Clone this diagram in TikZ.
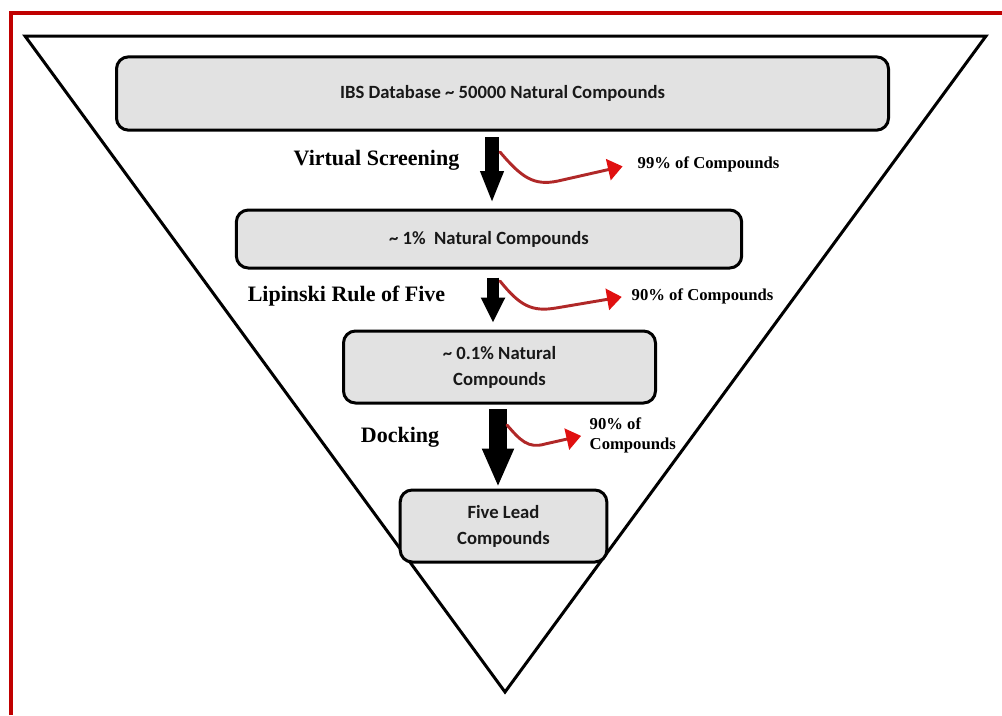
\documentclass[tikz,border=0pt]{standalone}
\usepackage{fontspec}
\setmainfont{Liberation Serif}
\newfontfamily\boxfont{Carlito}
\usepackage{xcolor}
\usetikzlibrary{arrows.meta,positioning}

\definecolor{framered}{HTML}{C00000}
\definecolor{boxgray}{HTML}{E2E2E2}
\definecolor{cutline}{HTML}{B02828}
\definecolor{cuthead}{HTML}{E01010}

\tikzset{
  stagebox/.style={draw=black, line width=2.25pt, rounded corners=9pt, fill=boxgray,
    align=center, text=black!90, font=\boxfont\bfseries\fontsize{14}{19.5}\selectfont},
  steplabel/.style={font=\bfseries\fontsize{16.5}{20}\selectfont},
  losslabel/.style={anchor=west, align=left, font=\bfseries\fontsize{12.5}{15}\selectfont},
  blockarrow/.style n args={3}{line width=#1, -{Triangle[length=#2, width=#3]}},
  cutarrow/.style={draw=cutline, line width=2.2pt, line cap=round,
    -{Triangle[length=11pt, width=16pt, color=cuthead]}}
}

\begin{document}
\begin{tikzpicture}[x=0.75pt, y=-0.75pt]
    \useasboundingbox (0,0) rectangle (1002,715);

    % frame, only left and top edges
    \draw[framered, line width=3pt] (11,715) -- (11,13) -- (1002,13);

    % funnel
    \draw[line width=2.25pt] (25,36) -- (986,36) -- (505,692) -- cycle;

    % stages
    \node[stagebox, minimum width=579pt, minimum height=55pt] (db) at (502.5,93.5)
        {IBS Database \textasciitilde{} 50000 Natural Compounds};
    \node[stagebox, minimum width=379pt, minimum height=43.5pt] (vs) at (489,239)
        {\textasciitilde{} 1\%\ \ Natural Compounds};
    \node[stagebox, minimum width=234pt, minimum height=54pt] (lip) at (499.5,367)
        {\textasciitilde{} 0.1\% Natural\\Compounds};
    \node[stagebox, minimum width=155pt, minimum height=54pt] (lead) at (503.5,526)
        {Five Lead\\Compounds};

    % filters
    \node[steplabel] (vslab) at (376.5,160) {Virtual Screening};
    \node[steplabel] (liplab) at (346.5,296) {Lipinski Rule of Five};
    \node[steplabel] (docklab) at (400,437) {Docking};

    \draw[blockarrow={10pt}{24pt}{16pt}, shorten <=4pt, shorten >=4pt]
        (db.south -| 492,0) -- (vs.north -| 492,0);
    \draw[blockarrow={9.5pt}{19pt}{17pt}, shorten <=6pt, shorten >=5pt]
        (vs.south -| 493,0) -- (lip.north -| 493,0);
    \draw[blockarrow={13pt}{29pt}{22pt}, shorten <=3.5pt, shorten >=1pt]
        (lip.south -| 498,0) -- (lead.north -| 498,0);

    % discarded fractions
    \node[losslabel] (loss1) at (633,164) {99\% of Compounds};
    \node[losslabel] (loss2) at (627,296) {90\% of Compounds};
    \node[losslabel] (loss3) at (585,435) {90\% of\\Compounds};

    \coordinate (cut1) at (500,152);
    \coordinate (cut2) at (500,281);
    \coordinate (cut3) at (507,425);

    \draw[cutarrow, shorten >=8pt] (cut1) .. controls (522,178) and (534,186) .. (558,181) -- (loss1.west);
    \draw[cutarrow, shorten >=4pt] (cut2) .. controls (520,306) and (532,312) .. (556,308) -- (loss2.west);
    \draw[cutarrow, shorten >=3pt] (cut3) .. controls (520,440) and (528,449) .. (545,444) -- (loss3.west);
\end{tikzpicture}
\end{document}
